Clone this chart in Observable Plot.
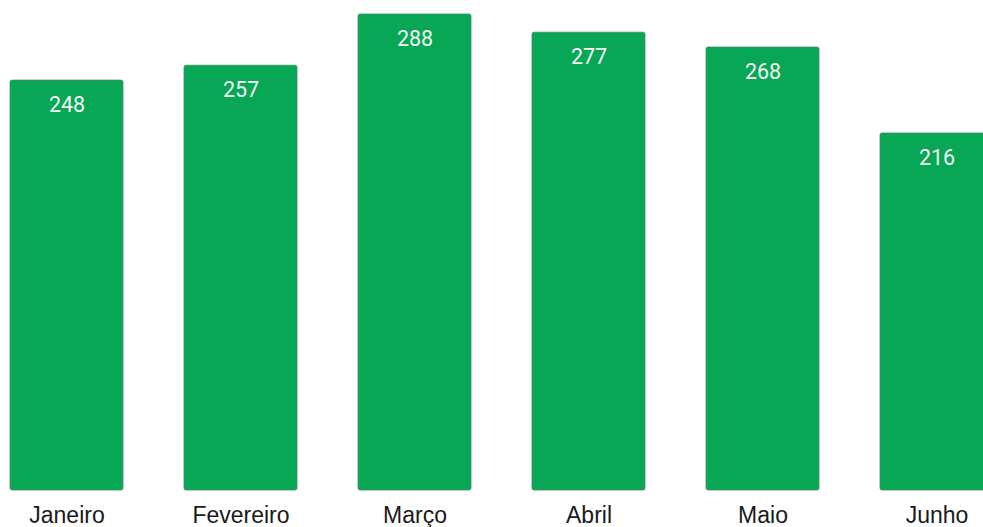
<!DOCTYPE html>
<html>
<head>
<meta charset="utf-8">
<script src="https://cdn.jsdelivr.net/npm/d3@7"></script>
<script src="https://cdn.jsdelivr.net/npm/@observablehq/plot@0.6"></script>
<style>
  html, body { margin: 0; padding: 0; background: #fff; overflow: hidden; }
  #chart { width: 983px; height: 527px; overflow: hidden; }
  #chart svg { display: block; max-width: none !important; width: 1000px !important; height: 527px !important; }
</style>
</head>
<body>
<div id="chart"></div>
<script>
const months = ["Janeiro", "Fevereiro", "Março", "Abril", "Maio", "Junho"];
const values = [248, 257, 288, 277, 268, 216];

const data = months.map((m, i) => ({month: m, value: values[i]}));

const chart = Plot.plot({
  width: 1000,
  height: 527,
  marginLeft: 10,
  marginRight: 5,
  marginTop: 14,
  marginBottom: 37,
  style: {fontFamily: "Roboto, sans-serif", background: "#fff", maxWidth: "none"},
  x: {domain: months, paddingInner: 0.352, paddingOuter: 0, align: 0, label: null},
  y: {domain: [0, 288], axis: null},
  marks: [
    Plot.barY(data, {x: "month", y: "value", fill: "#07a755", stroke: "#3f8d62", strokeWidth: 0.8, rx: 2}),
    Plot.text(data, {x: "month", y: "value", text: d => String(d.value), dy: 24.5, fill: "#f2f7f3", fontSize: 21.5}),
    Plot.axisX({tickSize: 0, tickPadding: 16, fontSize: 23, fontFamily: "'Liberation Sans', Arial, sans-serif", color: "#1a1a1a", label: null})
  ]
});
document.getElementById("chart").append(chart);
</script>
</body>
</html>
